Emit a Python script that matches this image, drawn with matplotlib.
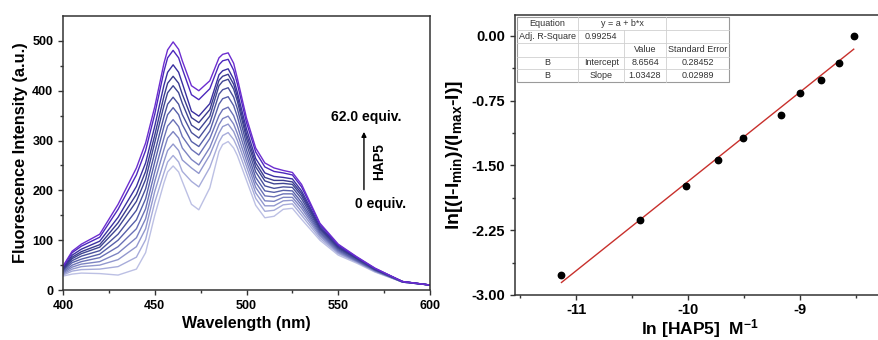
import matplotlib
matplotlib.use('Agg')
import matplotlib.pyplot as plt
from matplotlib.lines import Line2D

plt.rcParams['font.family'] = ['Liberation Sans', 'DejaVu Sans']
plt.rcParams['font.weight'] = 'bold'
plt.rcParams['axes.unicode_minus'] = False
plt.rcParams['mathtext.fontset'] = 'custom'
plt.rcParams['mathtext.rm'] = 'Liberation Sans:bold'
plt.rcParams['mathtext.it'] = 'Liberation Sans:bold'
plt.rcParams['mathtext.bf'] = 'Liberation Sans:bold'

# ---- left panel: fluorescence titration spectra ----
wl = [400, 405, 410, 420, 430, 440, 445, 450, 455, 457, 460, 463, 465, 470, 474, 480, 485,
      487, 490, 493, 495, 500, 505, 510, 515, 520, 525, 530, 540, 550, 560, 570, 585, 600]

i00 = [28, 32, 34, 33, 30, 42, 75, 150, 215, 237, 249, 237, 218, 172, 161, 205, 278, 292, 298, 285, 270, 220, 170, 145, 148, 162, 164, 142, 100, 70, 54, 36, 16, 10]
i01 = [30, 38, 41, 42, 47, 66, 101, 176, 235, 257, 270, 257, 238, 218, 207, 246, 297, 310, 316, 302, 286, 235, 184, 158, 160, 171, 173, 150, 104, 73, 56, 37, 16, 10]
i02 = [32, 42, 47, 50, 61, 87, 123, 198, 258, 280, 293, 280, 261, 245, 234, 271, 315, 328, 333, 318, 300, 248, 195, 169, 169, 179, 180, 157, 108, 75, 57, 38, 16, 10]
i03 = [34, 46, 52, 57, 74, 105, 143, 218, 282, 305, 318, 305, 285, 262, 251, 286, 332, 344, 349, 333, 314, 259, 206, 179, 178, 186, 186, 164, 111, 77, 58, 39, 16, 10]
i04 = [36, 50, 57, 65, 87, 123, 163, 237, 305, 329, 342, 328, 308, 282, 271, 304, 350, 362, 367, 350, 330, 270, 216, 189, 187, 193, 193, 170, 114, 79, 59, 39, 16, 10]
i05 = [38, 55, 62, 72, 100, 141, 183, 257, 328, 352, 366, 352, 332, 298, 288, 319, 373, 384, 388, 370, 348, 281, 226, 199, 196, 200, 199, 176, 117, 81, 60, 40, 16, 10]
i06 = [40, 59, 68, 79, 112, 160, 203, 276, 348, 373, 387, 373, 352, 316, 305, 335, 393, 402, 406, 387, 364, 293, 237, 209, 204, 207, 206, 183, 120, 83, 62, 41, 17, 10]
i07 = [41, 63, 73, 86, 125, 178, 222, 296, 370, 396, 410, 396, 375, 331, 321, 349, 410, 419, 423, 403, 379, 304, 247, 219, 213, 214, 212, 189, 123, 85, 63, 41, 17, 10]
i08 = [43, 66, 77, 91, 135, 192, 238, 311, 389, 415, 429, 415, 393, 346, 336, 362, 421, 429, 433, 413, 388, 313, 255, 226, 220, 220, 217, 194, 125, 86, 64, 42, 17, 10]
i09 = [44, 70, 82, 98, 146, 208, 255, 329, 411, 437, 452, 437, 415, 359, 349, 374, 432, 440, 444, 423, 397, 323, 264, 235, 228, 226, 223, 199, 128, 88, 65, 43, 17, 10]
i10 = [47, 75, 88, 106, 162, 231, 280, 353, 439, 466, 481, 466, 444, 392, 382, 404, 452, 460, 463, 441, 414, 336, 277, 247, 238, 235, 231, 207, 132, 90, 66, 43, 17, 10]
i11 = [48, 78, 92, 112, 172, 245, 295, 368, 455, 482, 498, 483, 460, 410, 400, 420, 466, 473, 476, 455, 425, 345, 285, 255, 245, 240, 236, 212, 134, 92, 67, 44, 17, 10]
spectra = [i00, i01, i02, i03, i04, i05, i06, i07, i08, i09, i10, i11]

line_colors = ['#bcc0e4', '#a7acda', '#9298ce', '#7d84c2', '#6a71b6', '#5760a9',
               '#4a519c', '#3f4592', '#3a3b8e', '#3a30a0', '#4c28bc', '#6c2dd0']

# ---- right panel: log plot and linear fit ----
ln_conc = [-11.13, -10.43, -10.02, -9.73, -9.51, -9.17, -9.00, -8.81, -8.65, -8.52]
ln_ratio = [-2.77, -2.13, -1.74, -1.44, -1.18, -0.92, -0.66, -0.51, -0.31, 0.00]
intercept = 8.6564
slope = 1.03428

table_rows = [
    ['Equation', 'y = a + b*x', '', ''],
    ['Adj. R-Square', '0.99254', '', ''],
    ['', '', 'Value', 'Standard Error'],
    ['B', 'Intercept', '8.6564', '0.28452'],
    ['B', 'Slope', '1.03428', '0.02989'],
]

fig = plt.figure(figsize=(8.79, 3.40), dpi=100)

ax1 = fig.add_axes([0.0717, 0.147, 0.4175, 0.806])
for vals, col in zip(spectra, line_colors):
    ax1.plot(wl, vals, color=col, lw=1.0)
ax1.set_xlim(400, 600)
ax1.set_ylim(0, 550)
ax1.set_xticks([400, 450, 500, 550, 600])
ax1.set_xticks([425, 475, 525, 575], minor=True)
ax1.set_yticks([0, 100, 200, 300, 400, 500])
ax1.set_yticks([50, 150, 250, 350, 450], minor=True)
ax1.tick_params(which='both', direction='out', top=False, right=False, labelsize=9, width=1, color='#333333')
ax1.tick_params(which='major', length=3.5)
ax1.tick_params(which='minor', length=2)
ax1.set_xlabel('Wavelength (nm)', fontsize=11.5, fontweight='bold', labelpad=3)
ax1.set_ylabel('Fluorescence Intensity (a.u.)', fontsize=11.8, fontweight='bold', labelpad=3)
for s in ax1.spines.values():
    s.set_linewidth(1.1)
    s.set_color('#333333')

ax1.text(565, 347, '62.0 equiv.', ha='center', va='center', fontsize=10, fontweight='bold')
ax1.text(573, 173, '0 equiv.', ha='center', va='center', fontsize=10, fontweight='bold')
ax1.annotate('', xy=(564, 323), xytext=(564, 196),
             arrowprops=dict(arrowstyle='-|>', color='black', lw=1.0, mutation_scale=7))
ax1.text(572, 258, 'HAP5', rotation=90, ha='center', va='center', fontsize=10, fontweight='bold')

ax2 = fig.add_axes([0.5859, 0.1324, 0.421, 0.8235])
fit_x = [ln_conc[0], ln_conc[-1]]
fit_y = [intercept + slope * x for x in fit_x]
ax2.plot(fit_x, fit_y, color='#c8302c', lw=1.0, zorder=2)
ax2.plot(ln_conc, ln_ratio, 'o', color='black', ms=4.6, zorder=3)
ax2.set_xlim(-11.545, -8.24)
ax2.set_ylim(-3.0, 0.24)
ax2.set_xticks([-11, -10, -9])
ax2.set_xticks([-11.5, -10.5, -9.5, -8.5], minor=True)
ax2.set_yticks([0.0, -0.75, -1.5, -2.25, -3.0])
ax2.set_yticks([-0.375, -1.125, -1.875, -2.625], minor=True)
ax2.set_yticklabels(['0.00', '-0.75', '-1.50', '-2.25', '-3.00'])
ax2.tick_params(which='both', direction='out', top=False, right=False, labelsize=10.5, width=1, color='#333333')
ax2.tick_params(which='major', length=3.5)
ax2.tick_params(which='minor', length=2)
ax2.tick_params(axis='x', pad=2.5)
ax2.set_xlabel(r'ln [HAP5]  M$^{-1}$', fontsize=12.5, fontweight='bold', labelpad=0)
ax2.set_ylabel(r'ln[(I-I$_{min}$)/(I$_{max}$-I)]', fontsize=14, fontweight='bold', labelpad=5)
for s in ax2.spines.values():
    s.set_linewidth(1.1)
    s.set_color('#333333')

# fit result table
col_edges = [0.0046, 0.171, 0.2954, 0.4073, 0.5792]
row_edges = [0.9918, 0.9464, 0.8989, 0.8511, 0.8061, 0.7618]
tr = ax2.transAxes
ax2.add_patch(plt.Rectangle((col_edges[0], row_edges[-1]), col_edges[-1] - col_edges[0],
                            row_edges[0] - row_edges[-1], transform=tr, facecolor='white',
                            edgecolor='#9a9a9a', lw=0.8, zorder=4))
for r in range(1, 5):
    ax2.add_line(Line2D([col_edges[0], col_edges[-1]], [row_edges[r]] * 2, transform=tr,
                        color='#d0d0d0', lw=0.6, zorder=5))
for c in range(1, 4):
    top = row_edges[0] if c != 2 else row_edges[1]
    ax2.add_line(Line2D([col_edges[c]] * 2, [row_edges[-1], top], transform=tr,
                        color='#d0d0d0', lw=0.6, zorder=5))
for r, row in enumerate(table_rows):
    yc = (row_edges[r] + row_edges[r + 1]) / 2
    for c, txt in enumerate(row):
        if not txt:
            continue
        if r == 0 and c == 1:
            xc = (col_edges[1] + col_edges[3]) / 2
        else:
            xc = (col_edges[c] + col_edges[c + 1]) / 2
        ax2.text(xc, yc, txt, transform=tr, ha='center', va='center', fontsize=6.5,
                 fontweight='normal', color='#333333', zorder=6)

fig.savefig('out.png', dpi=100)
